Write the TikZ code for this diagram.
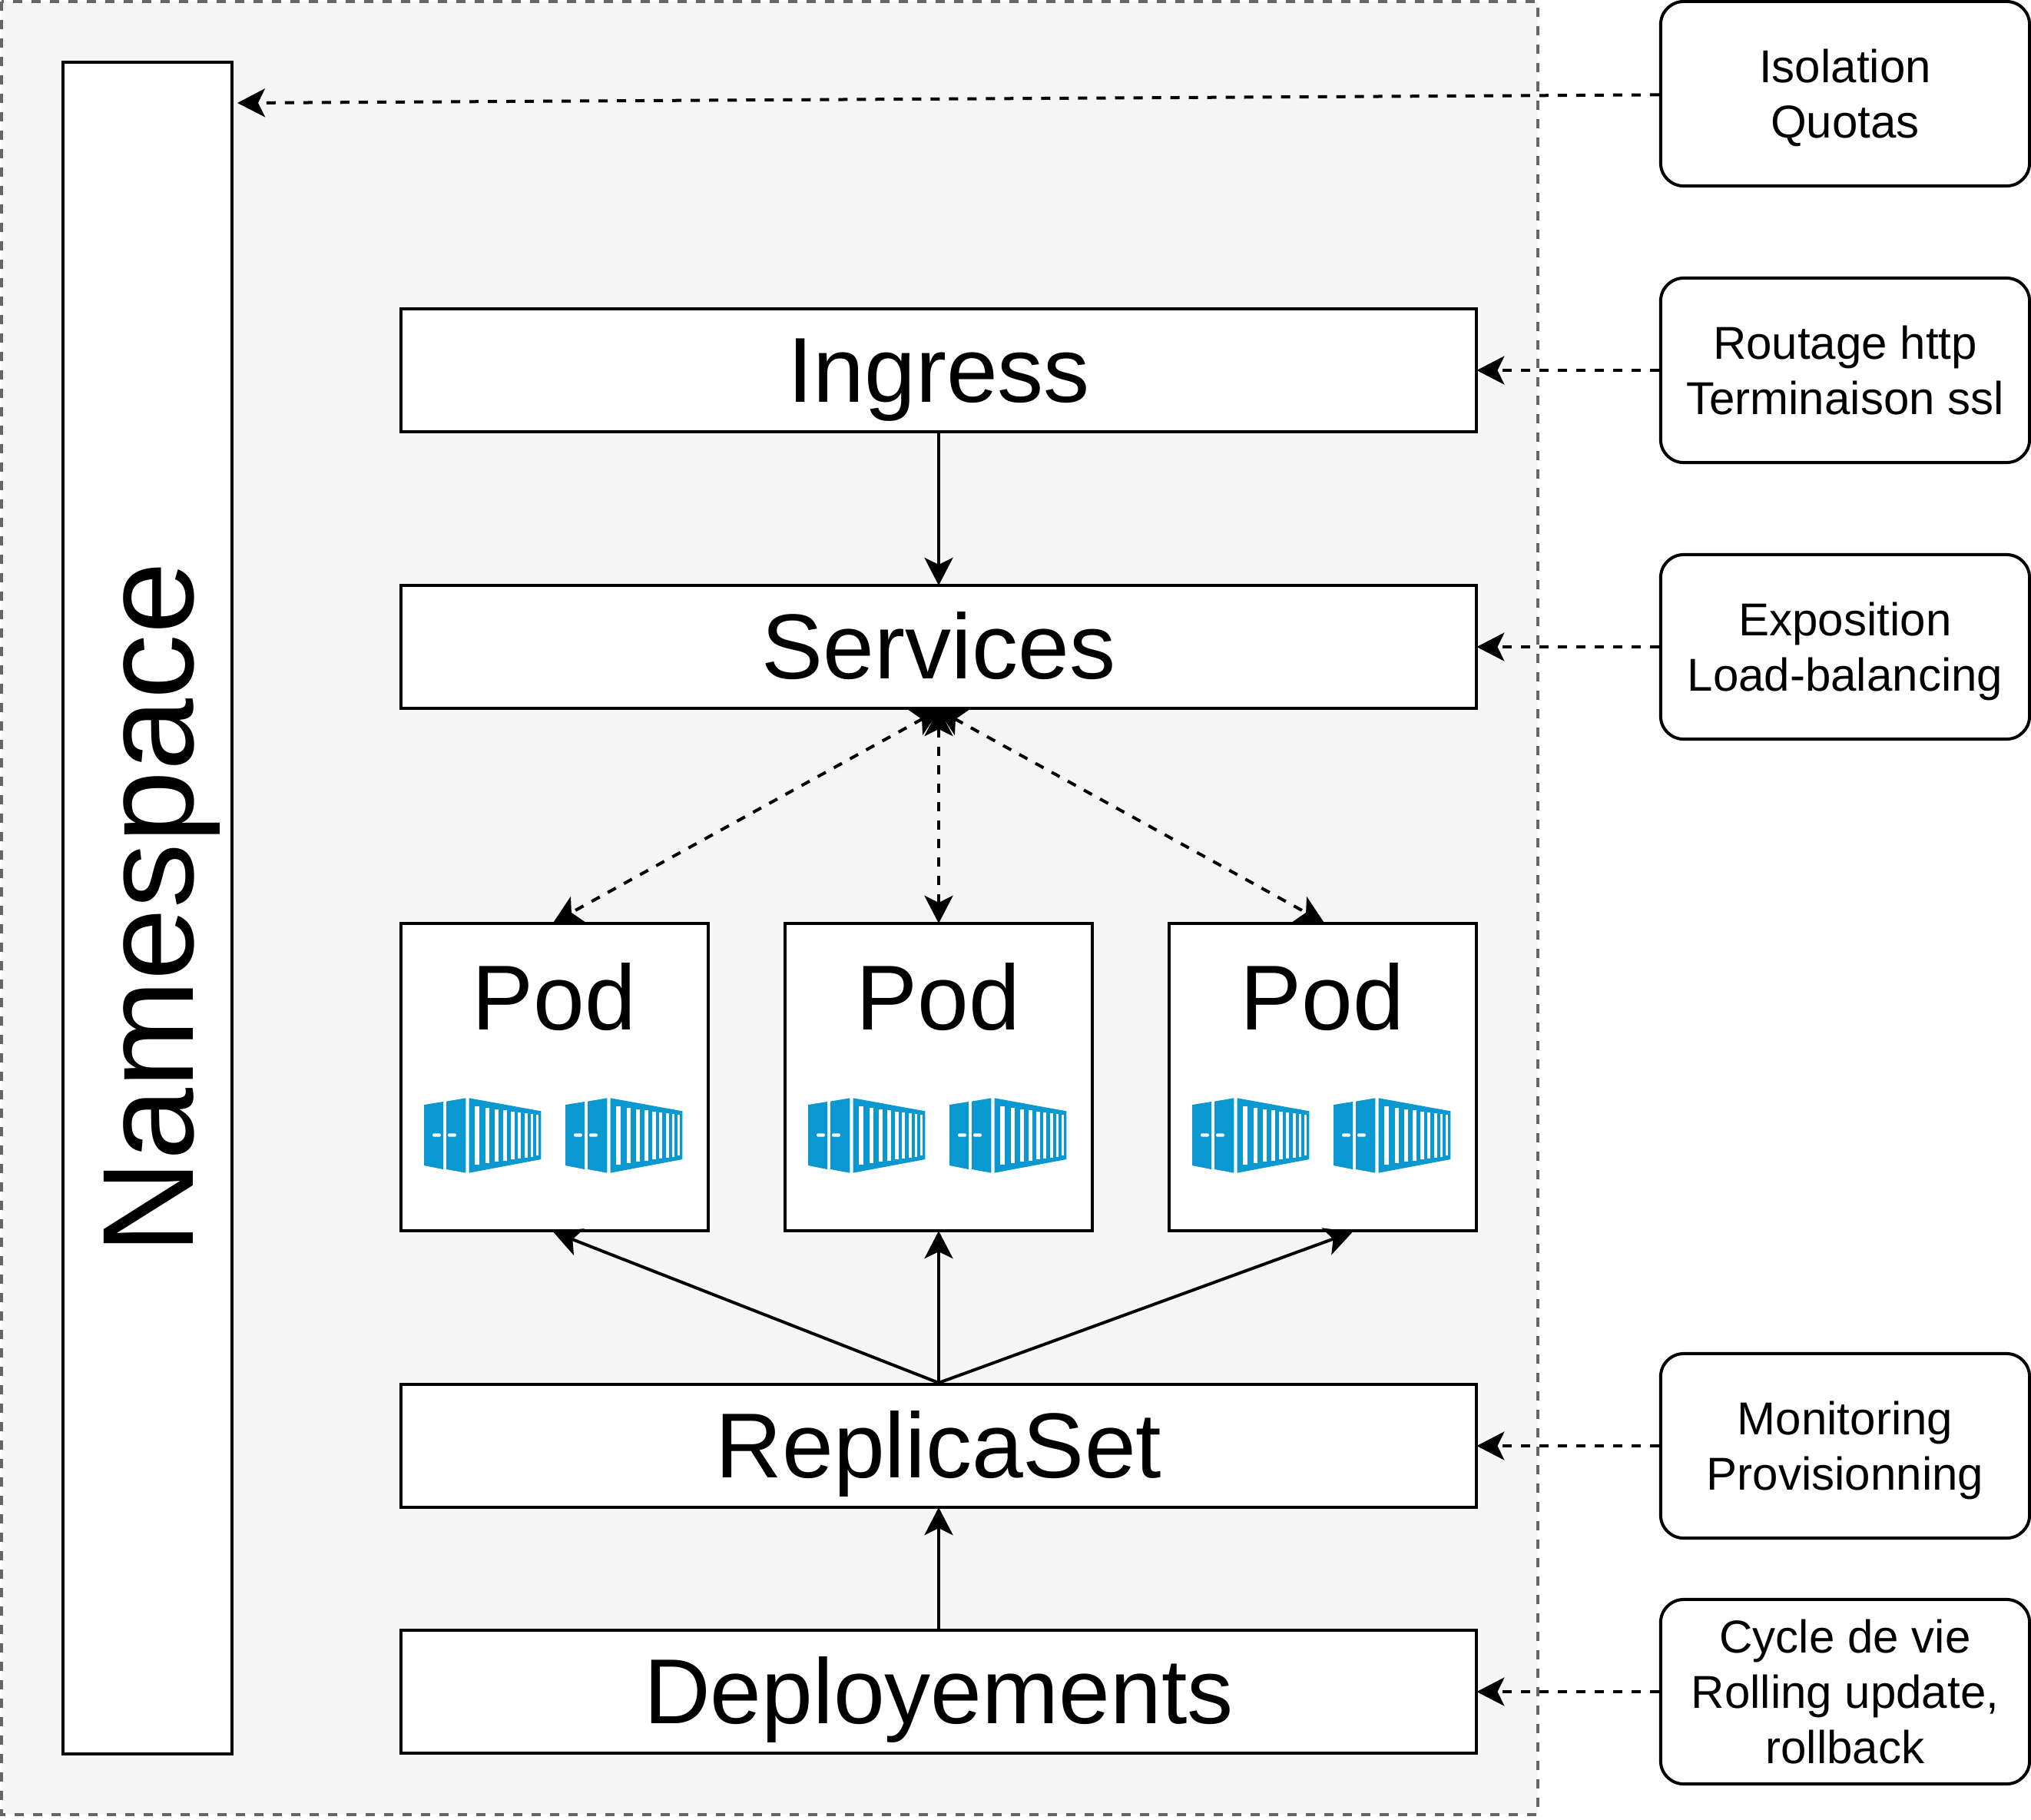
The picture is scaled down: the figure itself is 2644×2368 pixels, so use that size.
\documentclass[tikz,border=0pt]{standalone}
\usepackage{fontspec}
\setmainfont{Liberation Sans}
\usetikzlibrary{arrows.meta}
\definecolor{iconblue}{HTML}{0999D0}
\definecolor{areagray}{HTML}{F5F5F5}
\definecolor{arealine}{HTML}{666666}
\tikzset{
  box/.style={draw, fill=white, line width=0.04cm, inner sep=0pt},
  bigbox/.style={box, minimum width=14cm, minimum height=1.6cm, text height=0.93cm, text depth=0.1cm, font=\fontsize{34.14}{41}\selectfont},
  podbox/.style={box, minimum width=4cm, minimum height=4cm},
  podtext/.style={anchor=base, inner sep=0pt, font=\fontsize{34.14}{41}\selectfont},
  note/.style={draw, fill=white, line width=0.04cm, rounded corners=0.3cm, minimum width=4.8cm, minimum height=2.4cm, inner sep=0pt, align=center, text depth=-0.03cm, font=\fontsize{17.07}{20.49}\selectfont},
  link/.style={line width=0.04cm, shorten >=-0.02cm, -{Stealth[length=0.36cm, width=0.37cm, inset=0.09cm]}},
  dashlink/.style={link, dash pattern=on 0.12cm off 0.12cm},
  bothlink/.style={dashlink, shorten <=-0.02cm, {Stealth[length=0.36cm, width=0.37cm, inset=0.09cm]}-{Stealth[length=0.36cm, width=0.37cm, inset=0.09cm]}},
  pics/container/.style={code={
    \fill[iconblue] (0,9) -- (25,5) -- (25,93) -- (0,88) -- cycle;
    \fill[iconblue] (29,4.6) -- (54.3,0.3) -- (54.3,97.6) -- (29,93) -- cycle;
    \fill[iconblue] (58.7,0.3) -- (152.3,17.3) -- (152.3,80) -- (58.7,97.6) -- cycle;
    \foreach \xa/\xb/\ya/\yb in {66/72/10.7/87.3, 79.7/85.3/12.7/85.3, 92/97/14.7/83.3, 103/108/16.3/81.7, 113/117.7/17.7/80, 122.3/126.3/19/79, 131/134.7/20/77.7, 138.7/142/21/76.7, 145.7/149/22.3/75.3}
      \fill[white] (\xa,\ya) rectangle (\xb,\yb);
    \fill[white, rounded corners=0.02cm] (11,46.3) rectangle (22,50.7);
    \fill[white, rounded corners=0.02cm] (31,46.3) rectangle (42,50.7);
  }}
}
\begin{document}
\begin{tikzpicture}[x=0.01cm, y=-0.01cm]
\useasboundingbox (0,0) rectangle (2644,2368);

\draw[fill=areagray, draw=arealine, line width=0.04cm, dash pattern=on 0.12cm off 0.12cm] (2,2) rectangle (2002,2362);

\node[box, rotate=90, minimum width=22cm, minimum height=2.2cm, text height=1.39cm, text depth=0.2cm, font=\fontsize{48}{58}\selectfont] (namespace) at (192,1182) {Namespace};
\coordinate (nstip) at (311,134);

\node[bigbox] (ingress) at (1222,482) {Ingress};
\node[bigbox] (services) at (1222,842) {Services};
\node[bigbox] (replicaset) at (1222,1882) {ReplicaSet};
\node[bigbox] (deployments) at (1222,2202) {Deployements};

\foreach \n/\x in {1/722, 2/1222, 3/1722} {
  \node[podbox] (pod\n) at (\x,1402) {};
  \node[podtext] (podname\n) at (\x-1,1340) {Pod};
  \pic at (\x-170,1429) {container};
  \pic at (\x+14,1429) {container};
}
\coordinate (podtip) at ([xshift=0.37cm]pod3.south);

\node[note] (isolation) at (2402,122) {Isolation\\Quotas};
\node[note] (routage) at (2402,482) {Routage http\\Terminaison ssl};
\node[note] (exposition) at (2402,842) {Exposition\\Load-balancing};
\node[note] (monitoring) at (2402,1882) {Monitoring\\Provisionning};
\node[note] (cycle) at (2402,2202) {Cycle de vie\\Rolling update,\\rollback};

\draw[link] (ingress) -- (services);
\draw[bothlink] (services.south) -- (pod1.north);
\draw[bothlink] (services.south) -- (pod2.north);
\draw[bothlink] (services.south) -- (pod3.north);
\draw[link] (replicaset.north) -- (pod1.south);
\draw[link] (replicaset.north) -- (pod2.south);
\draw[link] (replicaset.north) -- (podtip);
\draw[link] (deployments) -- (replicaset);

\draw[dashlink] (isolation) -- (nstip);
\draw[dashlink] (routage) -- (ingress);
\draw[dashlink] (exposition) -- (services);
\draw[dashlink] (monitoring) -- (replicaset);
\draw[dashlink] (cycle) -- (deployments);
\end{tikzpicture}
\end{document}
